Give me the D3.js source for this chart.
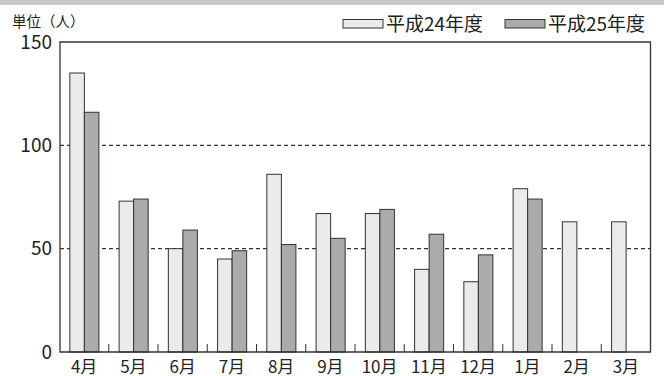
<!DOCTYPE html>
<html>
<head>
<meta charset="utf-8">
<script src="https://cdn.jsdelivr.net/npm/d3@7"></script>
<style>
body{margin:0;background:#fff;}
text{font-family:"Noto Sans CJK JP","Noto Sans",sans-serif;fill:#222;}
</style>
</head>
<body>
<svg id="chart" width="664" height="376"></svg>
<script>
// data
let months = ['4月','5月','6月','7月','8月','9月','10月','11月','12月','1月','2月','3月']
let series = ['平成24年度','平成25年度']
let h24 = [135,73,50,45,86,67,67,40,34,79,63,63]
let h25 = [116,74,59,49,52,55,69,57,47,74,null,null]
let yTicks = [0,50,100,150]
let colors = ['#ebebee','#aaabad']

let svg = d3.select('#chart')

// scanner strip at the top
svg.append('rect').attr('x',0).attr('y',0).attr('width',664).attr('height',5).style('fill','#c9c9c9')

let plotL = 60, plotR = 650.5, plotT = 42, plotB = 352

let x = d3.scaleBand().domain(months).range([59.5,plotR])
let bw = x.bandwidth()
let x1 = d3.scaleBand().domain(series).range([bw*0.21, bw*0.80])
let y = d3.scaleLinear().domain([0,150]).range([plotB,plotT])

// dashed grid lines
svg.selectAll('line.grid').data([50,100]).enter().append('line')
  .attr('class','grid')
  .attr('x1',plotL).attr('x2',plotR)
  .attr('y1',d=>y(d)).attr('y2',d=>y(d))
  .style('stroke','#333').style('stroke-width',1.2)
  .style('stroke-dasharray','4,3')

// bars
let data = [h24,h25]
data.forEach(function(vals,s){
  svg.selectAll('rect.s'+s).data(months.map((m,i)=>({m:m,v:vals[i]})).filter(d=>d.v!=null))
    .enter().append('rect')
    .attr('class','s'+s)
    .attr('x',d=>x(d.m)+x1(series[s]))
    .attr('y',d=>y(d.v))
    .attr('width',x1.bandwidth())
    .attr('height',d=>plotB-y(d.v))
    .style('fill',colors[s])
    .style('stroke','#333')
    .style('stroke-width',1)
})

// frame
svg.append('path')
  .attr('d',`M${plotL},${plotB}V${plotT}H${plotR}V${plotB}Z`)
  .style('fill','none').style('stroke','#333').style('stroke-width',1.3)

// small ticks between months
svg.selectAll('line.tk').data(months.slice(1)).enter().append('line')
  .attr('x1',d=>x(d)).attr('x2',d=>x(d))
  .attr('y1',plotB).attr('y2',plotB-8)
  .style('stroke','#333').style('stroke-width',1)

// y labels
svg.selectAll('text.yl').data(yTicks).enter().append('text')
  .attr('x',52).attr('y',d=>y(d)+6.5)
  .attr('text-anchor','end')
  .style('font-size','19px')
  .text(d=>d)

// x labels
svg.selectAll('text.xl').data(months).enter().append('text')
  .attr('x',d=>x(d)+bw/2).attr('y',372.5)
  .attr('text-anchor','middle')
  .style('font-size','17px')
  .text(d=>d)

svg.append('text').attr('x',12).attr('y',27).style('font-size','14.5px').text('単位（人）')

// legend
let legX = [343,505]
series.forEach(function(s,i){
  svg.append('rect').attr('x',legX[i]).attr('y',19.5).attr('width',40).attr('height',8.5)
    .style('fill',colors[i]).style('stroke','#333').style('stroke-width',1)
  svg.append('text').attr('x',legX[i]+43).attr('y',31).style('font-size','19px').text(s)
})
</script>
</body>
</html>
